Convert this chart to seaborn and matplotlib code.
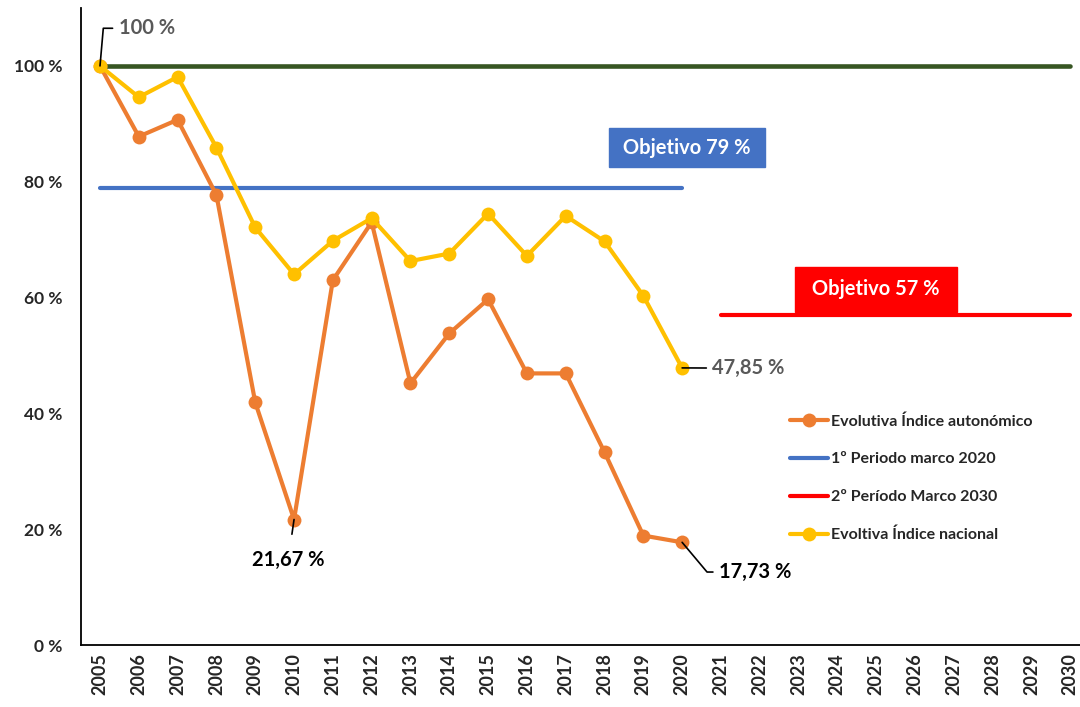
import numpy as np
import pandas as pd
import matplotlib
matplotlib.use('Agg')
import matplotlib.pyplot as plt
import seaborn as sns
from matplotlib.lines import Line2D

# --- data ---
years = [str(y) for y in range(2005, 2031)]
hist_years = years[:16]  # 2005..2020

autonomico = [100, 87.8, 90.7, 77.7, 41.9, 21.67, 63.0, 73.0, 45.2, 53.8,
              59.7, 46.9, 46.9, 33.3, 18.9, 17.73]
nacional = [100, 94.6, 98.1, 85.9, 72.1, 64.0, 69.8, 73.7, 66.3, 67.6,
            74.5, 67.2, 74.1, 69.7, 60.3, 47.85]

obj_2020 = 79
obj_2030 = 57
base = 100
period2_years = years[16:]  # 2021..2030

col_auto = '#ED7D31'
col_nac = '#FFC000'
col_blue = '#4472C4'
col_red = '#FF0000'
col_green = '#375623'

sns.set_style('white')
plt.rcParams['font.family'] = ['Lato', 'DejaVu Sans']

fig = plt.figure(figsize=(10.8, 7.07), dpi=100)
ax = fig.add_axes([80.6 / 1080, 62 / 707, 1009 / 1080, 637 / 707])

pos = {y: i for i, y in enumerate(years)}

df_auto = pd.DataFrame({'x': [pos[y] for y in hist_years], 'v': np.array(autonomico) / 100})
df_nac = pd.DataFrame({'x': [pos[y] for y in hist_years], 'v': np.array(nacional) / 100})
df_green = pd.DataFrame({'x': [pos[y] for y in years], 'v': [base / 100] * len(years)})
df_blue = pd.DataFrame({'x': [pos[y] for y in hist_years], 'v': [obj_2020 / 100] * len(hist_years)})
df_red = pd.DataFrame({'x': [pos[y] for y in period2_years], 'v': [obj_2030 / 100] * len(period2_years)})

sns.lineplot(data=df_green, x='x', y='v', color=col_green, lw=3.3, ax=ax, zorder=2)
sns.lineplot(data=df_blue, x='x', y='v', color=col_blue, lw=3, ax=ax, zorder=2)
sns.lineplot(data=df_red, x='x', y='v', color=col_red, lw=3, ax=ax, zorder=2)
sns.lineplot(data=df_auto, x='x', y='v', color=col_auto, lw=3, marker='o', ms=10,
             markeredgewidth=0, ax=ax, zorder=3)
sns.lineplot(data=df_nac, x='x', y='v', color=col_nac, lw=3, marker='o', ms=10,
             markeredgewidth=0, ax=ax, zorder=4)

ax.set_xlim(-0.5, len(years) - 0.5)
ax.set_ylim(0, 1.1)
ax.set_xlabel('')
ax.set_ylabel('')

yt = [0, 0.2, 0.4, 0.6, 0.8, 1.0]
ax.set_yticks(yt)
ax.set_yticklabels([f'{int(round(t * 100))} %' for t in yt], fontsize=12.5, fontweight='bold')
ax.set_xticks(range(len(years)))
ax.set_xticklabels(years, rotation=90, fontsize=13, fontweight='bold')
ax.set_xticks(np.arange(-0.5, len(years), 1), minor=True)
ax.tick_params(axis='x', which='major', length=0, pad=6)
ax.tick_params(axis='x', which='minor', length=5, width=1, color='black', direction='out')
ax.tick_params(axis='y', length=5, width=1, color='black', direction='out', pad=8)

for s in ['top', 'right']:
    ax.spines[s].set_visible(False)
for s in ['left', 'bottom']:
    ax.spines[s].set_color('black')
    ax.spines[s].set_linewidth(1.3)

# target boxes
ax.text(15.13, 0.859, ' Objetivo 79 % ', color='white', fontsize=14.5,
        fontweight='bold', ha='center', va='center', zorder=5,
        bbox=dict(boxstyle='square,pad=0.45', fc=col_blue, ec=col_blue))
ax.text(20.0, 0.614, ' Objetivo 57 % ', color='white', fontsize=14.5,
        fontweight='bold', ha='center', va='center', zorder=5,
        bbox=dict(boxstyle='square,pad=0.6', fc=col_red, ec=col_red))

# data labels with leader lines
lab_kw = dict(fontsize=14.5, fontweight='bold')
ax.annotate('100 %', xy=(pos['2005'], 1.0), xytext=(pos['2005'] + 0.48, 1.065),
            color='#595959', va='center', ha='left', zorder=6,
            arrowprops=dict(arrowstyle='-', color='black', lw=1.2,
                            connectionstyle='angle,angleA=0,angleB=85,rad=0',
                            shrinkA=2, shrinkB=0), **lab_kw)
ax.annotate('47,85 %', xy=(pos['2020'], 0.4785), xytext=(pos['2020'] + 0.78, 0.478),
            color='#595959', va='center', ha='left', zorder=6,
            arrowprops=dict(arrowstyle='-', color='black', lw=1.2, shrinkA=2, shrinkB=0),
            **lab_kw)
ax.annotate('21,67 %', xy=(pos['2010'], 0.2167), xytext=(pos['2010'] - 0.15, 0.147),
            color='black', va='center', ha='center', zorder=6,
            arrowprops=dict(arrowstyle='-', color='black', lw=1.2, shrinkA=9, shrinkB=0),
            **lab_kw)
ax.annotate('17,73 %', xy=(pos['2020'], 0.1773), xytext=(pos['2020'] + 0.95, 0.126),
            color='black', va='center', ha='left', zorder=6,
            arrowprops=dict(arrowstyle='-', color='black', lw=1.2,
                            connectionstyle='angle,angleA=0,angleB=130,rad=0',
                            shrinkA=2, shrinkB=0), **lab_kw)

# legend (green reference line not listed)
handles = [
    Line2D([], [], color=col_auto, lw=3, marker='o', ms=10, markeredgewidth=0),
    Line2D([], [], color=col_blue, lw=3),
    Line2D([], [], color=col_red, lw=3),
    Line2D([], [], color=col_nac, lw=3, marker='o', ms=10, markeredgewidth=0),
]
labels = ['Evolutiva Índice autonómico', '1º Periodo marco 2020',
          '2º Período Marco 2030', 'Evoltiva Índice nacional']
leg = ax.legend(handles, labels, loc='upper left', bbox_to_anchor=(695 / 1009, 0.385),
                frameon=False, handlelength=2.4, handletextpad=0.15,
                labelspacing=1.48, prop=dict(family=['Lato', 'DejaVu Sans'],
                                             weight='bold', size=11.5))

fig.savefig('out.png', dpi=100)
